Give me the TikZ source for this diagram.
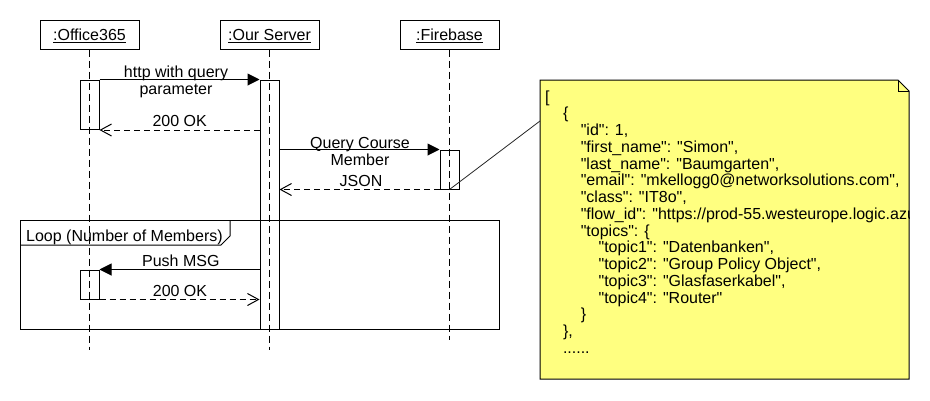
\documentclass[tikz,border=0pt]{standalone}
\usepackage{fontspec}
\setmainfont{Liberation Sans}[Ligatures=TeXOff]
\usetikzlibrary{arrows.meta}
\definecolor{noteyellow}{HTML}{FFFF80}
\begin{document}
\begin{tikzpicture}[x=1pt,y=-1pt,
  every node/.style={font=\fontsize{16}{17}\selectfont},
  head/.style={draw, line width=1pt, minimum width=99pt, minimum height=29pt, inner sep=0pt, text height=12pt, text depth=0pt},
  actbox/.style={draw, line width=1pt, minimum width=19pt, inner sep=0pt},
  lifeline/.style={line width=1pt, dash pattern=on 7pt off 4pt},
  call/.style={line width=1pt, -{Triangle[length=12pt,width=12pt]}},
  reply/.style={line width=1pt, dash pattern=on 6pt off 4pt, -{Straight Barb[length=11pt,width=12pt,line width=1pt]}},
  lbl/.style={inner sep=0pt, anchor=base, align=center},
  jsn/.style={inner sep=0pt, anchor=base west},
]
\useasboundingbox (0,0) rectangle (930,400);

% lifeline heads
\node[head] (office) at (89.5,34.5) {\underline{:Office365}};
\node[head] (server) at (269.5,34.5) {\underline{:Our Server}};
\node[head] (fire) at (449.5,34.5) {\underline{:Firebase}};

\coordinate (oend) at (89.5,350);
\coordinate (send) at (269.5,350);
\coordinate (fend) at (449.5,340);
\draw[lifeline] (office.south) -- (oend);
\draw[lifeline] (server.south) -- (send);
\draw[lifeline] (fire.south) -- (fend);

% activation boxes
\node[actbox, minimum height=49pt] (oact1) at (89.5,104.5) {};
\node[actbox, minimum height=249pt] (sact) at (269.5,204.5) {};
\node[actbox, minimum height=39pt] (fbact) at (449.5,169.5) {};
\node[actbox, minimum height=29pt] (oact2) at (89.5,284.5) {};

% loop frame
\node[draw, line width=1pt, minimum width=479pt, minimum height=109pt, inner sep=0pt] (loop) at (259.5,274.5) {};
\draw[line width=1pt] (20,245) -- (221,245) -- (230,236) -- (230,220);
\node[jsn] (looplbl) at (26,241) {Loop (Number of Members)};

% messages
\draw[call] (oact1.north east) -- (sact.north west);
\node[lbl] (m1) at (176,94) {http with query\\parameter};
\draw[reply] (sact.west |- 0,130) -- (oact1.east |- 0,130);
\node[lbl] (m2) at (179.7,126) {200 OK};
\draw[call] (sact.east |- fbact.north) -- (fbact.north west);
\node[lbl] (m3) at (360,165) {Query Course\\Member};
\draw[reply] (fbact.south west) -- (sact.east |- fbact.south);
\node[lbl] (m4) at (361,186.7) {JSON};
\draw[call] (sact.west |- oact2.north) -- (oact2.north east);
\node[lbl] (m5) at (180.8,266) {Push MSG};
\draw[reply] (oact2.south east) -- (sact.west |- oact2.south);
\node[lbl] (m6) at (180,296.7) {200 OK};

% note
\filldraw[fill=noteyellow, draw=black, line width=1pt] (540,80) -- (898,80) -- (909,91) -- (909,379) -- (540,379) -- cycle;
\draw[line width=1pt] (898,80) -- (898,91) -- (909,91);
\coordinate (notepin) at (540,121);
\draw[line width=0.8pt, black!85] (fbact.south) -- (notepin);
\begin{scope}
\clip (540,80) -- (898,80) -- (909,91) -- (909,379) -- (540,379) -- cycle;
\node[jsn] (j0) at (545,102.2) {[};
\node[jsn] (j1) at (562.8,118.95) {\{};
\node[jsn] (j2) at (580.6,135.7) {"id": 1,};
\node[jsn] (j3) at (580.6,152.45) {"first\_name": "Simon",};
\node[jsn] (j4) at (580.6,169.2) {"last\_name": "Baumgarten",};
\node[jsn] (j5) at (580.6,185.95) {"email": "mkellogg0@networksolutions.com",};
\node[jsn] (j6) at (580.6,202.7) {"class": "IT8o",};
\node[jsn] (j7) at (580.6,219.45) {"flow\_id": "https://prod-55.westeurope.logic.azure};
\node[jsn] (j8) at (580.6,236.2) {"topics": \{};
\node[jsn] (j9) at (598.4,252.95) {"topic1": "Datenbanken",};
\node[jsn] (j10) at (598.4,269.7) {"topic2": "Group Policy Object",};
\node[jsn] (j11) at (598.4,286.45) {"topic3": "Glasfaserkabel",};
\node[jsn] (j12) at (598.4,303.2) {"topic4": "Router"};
\node[jsn] (j13) at (580.6,319.95) {\}};
\node[jsn] (j14) at (562.8,336.7) {\},};
\node[jsn] (j15) at (562.8,353.45) {......};
\end{scope}
\end{tikzpicture}
\end{document}
